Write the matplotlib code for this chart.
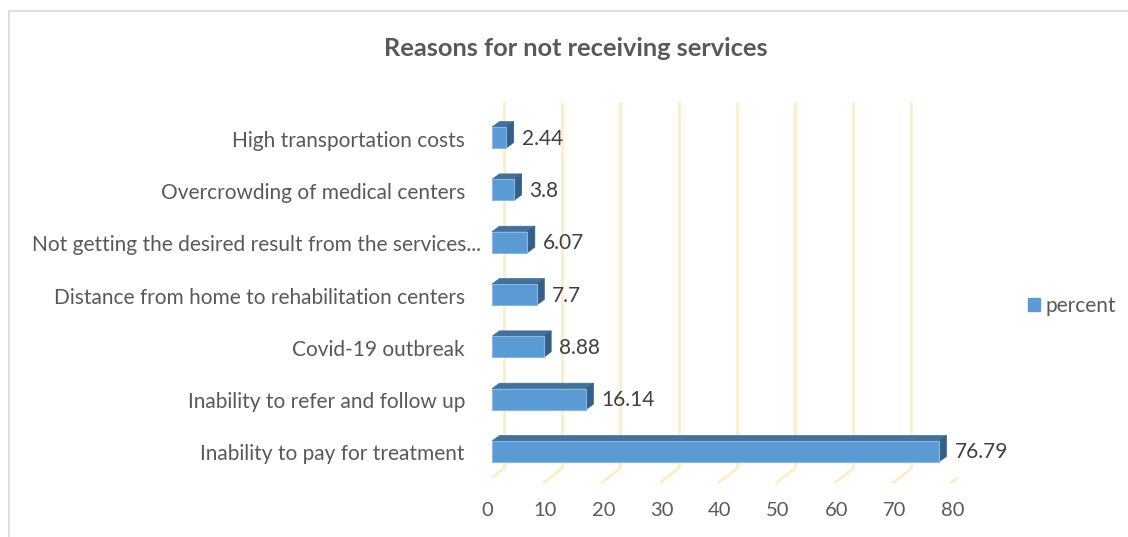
import matplotlib
matplotlib.use("Agg")
import matplotlib.pyplot as plt
from matplotlib.patches import Rectangle, Polygon, Patch

plt.rcParams["font.family"] = ["Lato", "DejaVu Sans"]

categories = [
    "Inability to pay for treatment",
    "Inability to refer and follow up",
    "Covid-19 outbreak",
    "Distance from home to rehabilitation centers",
    "Not getting the desired result from the services...",
    "Overcrowding of medical centers",
    "High transportation costs",
]
percent = [76.79, 16.14, 8.88, 7.7, 6.07, 3.8, 2.44]
xticks = [0, 10, 20, 30, 40, 50, 60, 70, 80]

W, H = 1128, 537
FRONT = "#5B9BD5"
TOP = "#41719C"
SIDE = "#335F88"
GRID = "#FDECC4"
TXT = "#595959"

fig = plt.figure(figsize=(W / 100, H / 100), dpi=100)
fig.patch.set_facecolor("white")

# chart area border
fig.add_artist(Rectangle((9 / W, -0.1), 1.2, 1 - 11 / H + 0.1, transform=fig.transFigure,
                         fill=False, edgecolor="#D9D9D9", linewidth=1.2))

ax = fig.add_axes([492 / W, 1 - 501.2 / H, 465.6 / W, 413.4 / H])
ax.set_xlim(0, 80)
ax.set_ylim(-0.95, 6.95)
ax.axis("off")

# pixel -> data unit helpers
p0 = ax.transData.transform((0, 0))
p1 = ax.transData.transform((1, 1))
sx = p1[0] - p0[0]
sy = p1[1] - p0[1]


def dx(px):
    return px / sx


def dy(px):
    # image px, down positive
    return -px / sy


back = (12, -9.3)
front = (-6, 4.7)
floor_y = -0.5
top_y = 6.5

# back wall gridlines + floor diagonals
for v in xticks:
    bx = v + dx(back[0])
    by0 = floor_y + dy(back[1])
    by1 = top_y + dy(back[1])
    ax.plot([bx, bx], [by0, by1], color=GRID, lw=1.8, zorder=1, solid_capstyle="butt")
    fx = v + dx(front[0])
    fy = floor_y + dy(front[1])
    ax.plot([bx, fx], [by0, fy], color=GRID, lw=1.8, zorder=1)
    ax.text(fx + dx(1), fy + dy(28), str(v), ha="center", va="center", fontsize=14.5, color=TXT)

# 3d-looking bars
h = 0.2
ddx, ddy = dx(7.5), dy(-5.5)
for i, (cat, v) in enumerate(zip(categories, percent)):
    c = i
    ax.add_patch(Polygon([(0, c + h), (v, c + h), (v + ddx, c + h + ddy), (ddx, c + h + ddy)],
                         closed=True, facecolor=TOP, edgecolor=TOP, lw=0.5, zorder=3))
    ax.add_patch(Polygon([(v, c - h), (v, c + h), (v + ddx, c + h + ddy), (v + ddx, c - h + ddy)],
                         closed=True, facecolor=SIDE, edgecolor=SIDE, lw=0.5, zorder=3))
    ax.add_patch(Rectangle((0, c - h), v, 2 * h, facecolor=FRONT, edgecolor="#8AB6E2",
                           lw=0.8, zorder=4))
    ax.text(v + ddx + dx(8), c + dy(1), f"{v:g}", ha="left", va="center",
            fontsize=15, color="#404040", zorder=5)
    shift = 16 if cat.endswith("...") else 0
    ax.text(dx(-27 + shift), c + dy(3), cat, ha="right", va="center",
            fontsize=15, color=TXT, clip_on=False)

fig.text(576 / W, 1 - 48 / H, "Reasons for not receiving services", ha="center",
         va="center", fontsize=18.3, fontweight="bold", color=TXT)

fig.legend(handles=[Patch(facecolor=FRONT, edgecolor=FRONT, label="percent")],
           loc="center left", bbox_to_anchor=(1009 / W, 1 - 306 / H), frameon=False,
           handlelength=0.6, handleheight=0.6, handletextpad=0.25, fontsize=15,
           labelcolor=TXT)

fig.savefig("out.png", dpi=100)
